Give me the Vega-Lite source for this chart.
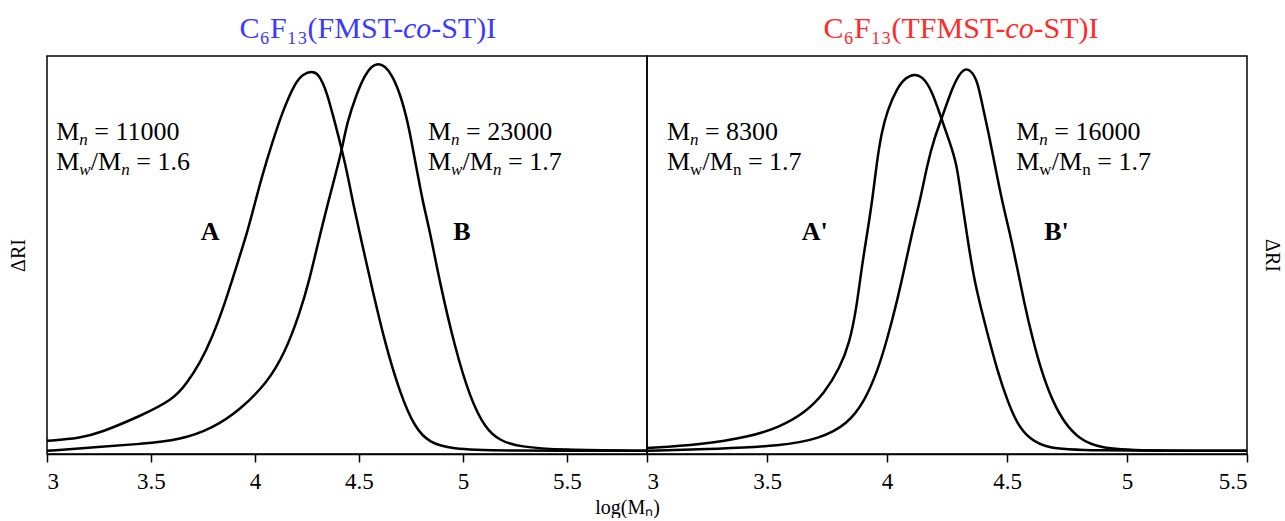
{
  "$schema": "https://vega.github.io/schema/vega-lite/v6.json",
  "background": "white",
  "padding": {"left": 7, "top": 13, "right": 0, "bottom": 0},
  "config": {
    "view": {"stroke": "black", "strokeWidth": 1.5},
    "font": "Liberation Serif"
  },
  "datasets": {
    "left": [
      {"s": "A", "x": 3.000, "v": 0.033}, {"s": "A", "x": 3.159, "v": 0.040}, {"s": "A", "x": 3.255, "v": 0.053},
      {"s": "A", "x": 3.447, "v": 0.095}, {"s": "A", "x": 3.606, "v": 0.136}, {"s": "A", "x": 3.673, "v": 0.178},
      {"s": "A", "x": 3.736, "v": 0.229}, {"s": "A", "x": 3.793, "v": 0.291}, {"s": "A", "x": 3.856, "v": 0.379},
      {"s": "A", "x": 3.913, "v": 0.475}, {"s": "A", "x": 3.962, "v": 0.555}, {"s": "A", "x": 4.000, "v": 0.631},
      {"s": "A", "x": 4.034, "v": 0.698}, {"s": "A", "x": 4.082, "v": 0.781}, {"s": "A", "x": 4.135, "v": 0.864},
      {"s": "A", "x": 4.192, "v": 0.932}, {"s": "A", "x": 4.231, "v": 0.955}, {"s": "A", "x": 4.274, "v": 0.962},
      {"s": "A", "x": 4.303, "v": 0.955}, {"s": "A", "x": 4.327, "v": 0.932}, {"s": "A", "x": 4.346, "v": 0.907},
      {"s": "A", "x": 4.385, "v": 0.832}, {"s": "A", "x": 4.418, "v": 0.764}, {"s": "A", "x": 4.447, "v": 0.698},
      {"s": "A", "x": 4.471, "v": 0.631}, {"s": "A", "x": 4.514, "v": 0.530}, {"s": "A", "x": 4.563, "v": 0.417},
      {"s": "A", "x": 4.625, "v": 0.279}, {"s": "A", "x": 4.697, "v": 0.153}, {"s": "A", "x": 4.769, "v": 0.065},
      {"s": "A", "x": 4.841, "v": 0.028}, {"s": "A", "x": 4.938, "v": 0.013}, {"s": "A", "x": 5.178, "v": 0.008},
      {"s": "A", "x": 5.885, "v": 0.008},
      {"s": "B", "x": 3.000, "v": 0.008}, {"s": "B", "x": 3.255, "v": 0.018}, {"s": "B", "x": 3.447, "v": 0.025},
      {"s": "B", "x": 3.639, "v": 0.035}, {"s": "B", "x": 3.798, "v": 0.065}, {"s": "B", "x": 3.928, "v": 0.111},
      {"s": "B", "x": 4.058, "v": 0.178}, {"s": "B", "x": 4.144, "v": 0.254}, {"s": "B", "x": 4.216, "v": 0.354},
      {"s": "B", "x": 4.264, "v": 0.442}, {"s": "B", "x": 4.303, "v": 0.530}, {"s": "B", "x": 4.351, "v": 0.631},
      {"s": "B", "x": 4.385, "v": 0.698}, {"s": "B", "x": 4.418, "v": 0.764}, {"s": "B", "x": 4.442, "v": 0.832},
      {"s": "B", "x": 4.490, "v": 0.907}, {"s": "B", "x": 4.529, "v": 0.952}, {"s": "B", "x": 4.558, "v": 0.973},
      {"s": "B", "x": 4.591, "v": 0.982}, {"s": "B", "x": 4.625, "v": 0.975}, {"s": "B", "x": 4.659, "v": 0.952},
      {"s": "B", "x": 4.697, "v": 0.907}, {"s": "B", "x": 4.736, "v": 0.832}, {"s": "B", "x": 4.760, "v": 0.764},
      {"s": "B", "x": 4.784, "v": 0.698}, {"s": "B", "x": 4.808, "v": 0.631}, {"s": "B", "x": 4.841, "v": 0.560},
      {"s": "B", "x": 4.889, "v": 0.430}, {"s": "B", "x": 4.962, "v": 0.266}, {"s": "B", "x": 5.034, "v": 0.141},
      {"s": "B", "x": 5.106, "v": 0.065}, {"s": "B", "x": 5.178, "v": 0.033}, {"s": "B", "x": 5.274, "v": 0.018},
      {"s": "B", "x": 5.466, "v": 0.010}, {"s": "B", "x": 5.885, "v": 0.008}
    ],
    "right": [
      {"s": "A'", "x": 3.000, "v": 0.015}, {"s": "A'", "x": 3.220, "v": 0.023}, {"s": "A'", "x": 3.428, "v": 0.043},
      {"s": "A'", "x": 3.553, "v": 0.068}, {"s": "A'", "x": 3.657, "v": 0.103}, {"s": "A'", "x": 3.740, "v": 0.153},
      {"s": "A'", "x": 3.803, "v": 0.216}, {"s": "A'", "x": 3.844, "v": 0.279}, {"s": "A'", "x": 3.873, "v": 0.367},
      {"s": "A'", "x": 3.894, "v": 0.467}, {"s": "A'", "x": 3.919, "v": 0.560}, {"s": "A'", "x": 3.940, "v": 0.643},
      {"s": "A'", "x": 3.957, "v": 0.731}, {"s": "A'", "x": 3.977, "v": 0.807}, {"s": "A'", "x": 4.002, "v": 0.864},
      {"s": "A'", "x": 4.040, "v": 0.917}, {"s": "A'", "x": 4.077, "v": 0.946}, {"s": "A'", "x": 4.115, "v": 0.955},
      {"s": "A'", "x": 4.148, "v": 0.948}, {"s": "A'", "x": 4.186, "v": 0.915}, {"s": "A'", "x": 4.227, "v": 0.842},
      {"s": "A'", "x": 4.260, "v": 0.786}, {"s": "A'", "x": 4.290, "v": 0.731}, {"s": "A'", "x": 4.310, "v": 0.643},
      {"s": "A'", "x": 4.331, "v": 0.560}, {"s": "A'", "x": 4.364, "v": 0.430}, {"s": "A'", "x": 4.418, "v": 0.304},
      {"s": "A'", "x": 4.460, "v": 0.209}, {"s": "A'", "x": 4.502, "v": 0.133}, {"s": "A'", "x": 4.543, "v": 0.075},
      {"s": "A'", "x": 4.593, "v": 0.038}, {"s": "A'", "x": 4.668, "v": 0.015}, {"s": "A'", "x": 4.801, "v": 0.008},
      {"s": "A'", "x": 5.500, "v": 0.008},
      {"s": "B'", "x": 3.000, "v": 0.008}, {"s": "B'", "x": 3.304, "v": 0.013}, {"s": "B'", "x": 3.553, "v": 0.020},
      {"s": "B'", "x": 3.720, "v": 0.038}, {"s": "B'", "x": 3.836, "v": 0.075}, {"s": "B'", "x": 3.907, "v": 0.133},
      {"s": "B'", "x": 3.961, "v": 0.209}, {"s": "B'", "x": 4.002, "v": 0.291}, {"s": "B'", "x": 4.040, "v": 0.379},
      {"s": "B'", "x": 4.073, "v": 0.467}, {"s": "B'", "x": 4.106, "v": 0.560}, {"s": "B'", "x": 4.140, "v": 0.643},
      {"s": "B'", "x": 4.169, "v": 0.731}, {"s": "B'", "x": 4.198, "v": 0.794}, {"s": "B'", "x": 4.227, "v": 0.842},
      {"s": "B'", "x": 4.269, "v": 0.915}, {"s": "B'", "x": 4.298, "v": 0.952}, {"s": "B'", "x": 4.327, "v": 0.970},
      {"s": "B'", "x": 4.352, "v": 0.962}, {"s": "B'", "x": 4.377, "v": 0.937}, {"s": "B'", "x": 4.398, "v": 0.875},
      {"s": "B'", "x": 4.423, "v": 0.807}, {"s": "B'", "x": 4.448, "v": 0.731}, {"s": "B'", "x": 4.481, "v": 0.631},
      {"s": "B'", "x": 4.510, "v": 0.560}, {"s": "B'", "x": 4.543, "v": 0.467}, {"s": "B'", "x": 4.572, "v": 0.379},
      {"s": "B'", "x": 4.606, "v": 0.291}, {"s": "B'", "x": 4.643, "v": 0.209}, {"s": "B'", "x": 4.689, "v": 0.133},
      {"s": "B'", "x": 4.743, "v": 0.075}, {"s": "B'", "x": 4.801, "v": 0.038}, {"s": "B'", "x": 4.884, "v": 0.015},
      {"s": "B'", "x": 5.051, "v": 0.008}, {"s": "B'", "x": 5.500, "v": 0.008}
    ],
    "labL": [
      {"x": 3.045, "y1": 0.789, "y2": 0.714, "mn": "= 11000", "pd": "= 1.6"},
      {"x": 4.832, "y1": 0.789, "y2": 0.714, "mn": "= 23000", "pd": "= 1.7"}
    ],
    "labR": [
      {"x": 3.083, "y1": 0.789, "y2": 0.714, "mn": "= 8300", "pd": "= 1.7"},
      {"x": 4.539, "y1": 0.789, "y2": 0.714, "mn": "= 16000", "pd": "= 1.7"}
    ],
    "letL": [
      {"x": 3.784, "y": 0.538, "t": "A"},
      {"x": 4.995, "y": 0.538, "t": "B"}
    ],
    "letR": [
      {"x": 3.699, "y": 0.538, "t": "A'"},
      {"x": 4.706, "y": 0.538, "t": "B'"}
    ],
    "ttlL": [
      {"x": 4.78, "y": 1.0455, "a": "C₆F₁₃(FMST-", "b": "co", "c": "-ST)I"}
    ],
    "ttlR": [
      {"x": 4.552, "y": 1.0455, "a": "C₆F₁₃(TFMST-", "b": "co", "c": "-ST)I"}
    ]
  },
  "hconcat": [
    {
      "width": 600,
      "height": 398,
      "resolve": {"axis": {"x": "independent", "y": "independent"}},
      "layer": [
        {
          "data": {"name": "left"},
          "mark": {"type": "line", "interpolate": "basis", "color": "black", "strokeWidth": 2.5, "clip": true},
          "encoding": {
            "x": {"field": "x", "type": "quantitative",
                  "scale": {"domain": [3, 5.885], "nice": false, "zero": false},
                  "axis": {"values": [3, 3.5, 4, 4.5, 5, 5.5], "format": "~g", "grid": false, "tickColor": "black", "tickSize": 8, "tickWidth": 1.5,
                           "domainColor": "black", "domainWidth": 1.5, "labelFont": "Liberation Serif", "labelFontSize": 23, "labelColor": "black",
                           "labelPadding": 8, "title": "log(Mₙ)", "titleFont": "Liberation Serif", "titleFontSize": 20, "titleFontWeight": "normal",
                           "titleColor": "black", "titleX": 580, "titleY": 59, "titleAlign": "center", "titleBaseline": "alphabetic"}},
            "y": {"field": "v", "type": "quantitative",
                  "scale": {"domain": [0, 1], "nice": false},
                  "axis": {"title": "ΔRI", "labels": false, "ticks": false, "domain": false, "grid": false,
                           "titleFont": "Liberation Serif", "titleFontSize": 20, "titleFontWeight": "normal", "titleColor": "black", "titlePadding": 19}},
            "detail": {"field": "s"}
          }
        },
        {
          "data": {"name": "ttlL"},
          "mark": {"type": "text", "align": "right", "baseline": "alphabetic", "fontSize": 30, "dx": -14, "font": "Liberation Serif", "color": "#3a3aff"},
          "encoding": {"x": {"field": "x", "type": "quantitative", "axis": null}, "y": {"field": "y", "type": "quantitative", "axis": null}, "text": {"field": "a"}}
        },
        {
          "data": {"name": "ttlL"},
          "mark": {"type": "text", "align": "center", "baseline": "alphabetic", "fontSize": 30, "fontStyle": "italic", "font": "Liberation Serif", "color": "#3a3aff"},
          "encoding": {"x": {"field": "x", "type": "quantitative", "axis": null}, "y": {"field": "y", "type": "quantitative", "axis": null}, "text": {"field": "b"}}
        },
        {
          "data": {"name": "ttlL"},
          "mark": {"type": "text", "align": "left", "baseline": "alphabetic", "fontSize": 30, "dx": 14, "font": "Liberation Serif", "color": "#3a3aff"},
          "encoding": {"x": {"field": "x", "type": "quantitative", "axis": null}, "y": {"field": "y", "type": "quantitative", "axis": null}, "text": {"field": "c"}}
        },
        {
          "data": {"name": "labL"},
          "mark": {"type": "text", "text": "M", "align": "left", "baseline": "alphabetic", "fontSize": 26, "font": "Liberation Serif", "color": "black"},
          "encoding": {"x": {"field": "x", "type": "quantitative", "axis": null}, "y": {"field": "y1", "type": "quantitative", "axis": null}}
        },
        {
          "data": {"name": "labL"},
          "mark": {"type": "text", "text": "n", "align": "left", "baseline": "alphabetic", "fontSize": 17, "fontStyle": "italic", "dx": 23, "dy": 5, "font": "Liberation Serif", "color": "black"},
          "encoding": {"x": {"field": "x", "type": "quantitative", "axis": null}, "y": {"field": "y1", "type": "quantitative", "axis": null}}
        },
        {
          "data": {"name": "labL"},
          "mark": {"type": "text", "align": "left", "baseline": "alphabetic", "fontSize": 26, "dx": 38, "font": "Liberation Serif", "color": "black"},
          "encoding": {"x": {"field": "x", "type": "quantitative", "axis": null}, "y": {"field": "y1", "type": "quantitative", "axis": null}, "text": {"field": "mn"}}
        },
        {
          "data": {"name": "labL"},
          "mark": {"type": "text", "text": "M", "align": "left", "baseline": "alphabetic", "fontSize": 26, "font": "Liberation Serif", "color": "black"},
          "encoding": {"x": {"field": "x", "type": "quantitative", "axis": null}, "y": {"field": "y2", "type": "quantitative", "axis": null}}
        },
        {
          "data": {"name": "labL"},
          "mark": {"type": "text", "text": "w", "align": "left", "baseline": "alphabetic", "fontSize": 17, "fontStyle": "italic", "dx": 23, "dy": 5, "font": "Liberation Serif", "color": "black"},
          "encoding": {"x": {"field": "x", "type": "quantitative", "axis": null}, "y": {"field": "y2", "type": "quantitative", "axis": null}}
        },
        {
          "data": {"name": "labL"},
          "mark": {"type": "text", "text": "/M", "align": "left", "baseline": "alphabetic", "fontSize": 26, "dx": 34.5, "font": "Liberation Serif", "color": "black"},
          "encoding": {"x": {"field": "x", "type": "quantitative", "axis": null}, "y": {"field": "y2", "type": "quantitative", "axis": null}}
        },
        {
          "data": {"name": "labL"},
          "mark": {"type": "text", "text": "n", "align": "left", "baseline": "alphabetic", "fontSize": 17, "fontStyle": "italic", "dx": 65, "dy": 5, "font": "Liberation Serif", "color": "black"},
          "encoding": {"x": {"field": "x", "type": "quantitative", "axis": null}, "y": {"field": "y2", "type": "quantitative", "axis": null}}
        },
        {
          "data": {"name": "labL"},
          "mark": {"type": "text", "align": "left", "baseline": "alphabetic", "fontSize": 26, "dx": 80, "font": "Liberation Serif", "color": "black"},
          "encoding": {"x": {"field": "x", "type": "quantitative", "axis": null}, "y": {"field": "y2", "type": "quantitative", "axis": null}, "text": {"field": "pd"}}
        },
        {
          "data": {"name": "letL"},
          "mark": {"type": "text", "align": "center", "baseline": "alphabetic", "fontSize": 26, "fontWeight": "bold", "font": "Liberation Serif", "color": "black"},
          "encoding": {"x": {"field": "x", "type": "quantitative", "axis": null}, "y": {"field": "y", "type": "quantitative", "axis": null}, "text": {"field": "t"}}
        }
      ]
    },
    {
      "width": 600,
      "height": 398,
      "resolve": {"axis": {"x": "independent", "y": "independent"}},
      "layer": [
        {
          "data": {"name": "right"},
          "mark": {"type": "line", "interpolate": "basis", "color": "black", "strokeWidth": 2.5, "clip": true},
          "encoding": {
            "x": {"field": "x", "type": "quantitative",
                  "scale": {"domain": [3, 5.5], "nice": false, "zero": false},
                  "axis": {"values": [3, 3.5, 4, 4.5, 5, 5.5], "format": "~g", "grid": false, "tickColor": "black", "tickSize": 8, "tickWidth": 1.5,
                           "domainColor": "black", "domainWidth": 1.5, "labelFont": "Liberation Serif", "labelFontSize": 23, "labelColor": "black",
                           "labelPadding": 8, "title": null}},
            "y": {"field": "v", "type": "quantitative",
                  "scale": {"domain": [0, 1], "nice": false},
                  "axis": {"orient": "right", "title": "ΔRI", "labels": false, "ticks": false, "domain": false, "grid": false,
                           "titleFont": "Liberation Serif", "titleFontSize": 20, "titleFontWeight": "normal", "titleColor": "black", "titlePadding": 14}},
            "detail": {"field": "s"}
          }
        },
        {
          "data": {"name": "ttlR"},
          "mark": {"type": "text", "align": "right", "baseline": "alphabetic", "fontSize": 30, "dx": -14, "font": "Liberation Serif", "color": "#ff2a2a"},
          "encoding": {"x": {"field": "x", "type": "quantitative", "axis": null}, "y": {"field": "y", "type": "quantitative", "axis": null}, "text": {"field": "a"}}
        },
        {
          "data": {"name": "ttlR"},
          "mark": {"type": "text", "align": "center", "baseline": "alphabetic", "fontSize": 30, "fontStyle": "italic", "font": "Liberation Serif", "color": "#ff2a2a"},
          "encoding": {"x": {"field": "x", "type": "quantitative", "axis": null}, "y": {"field": "y", "type": "quantitative", "axis": null}, "text": {"field": "b"}}
        },
        {
          "data": {"name": "ttlR"},
          "mark": {"type": "text", "align": "left", "baseline": "alphabetic", "fontSize": 30, "dx": 14, "font": "Liberation Serif", "color": "#ff2a2a"},
          "encoding": {"x": {"field": "x", "type": "quantitative", "axis": null}, "y": {"field": "y", "type": "quantitative", "axis": null}, "text": {"field": "c"}}
        },
        {
          "data": {"name": "labR"},
          "mark": {"type": "text", "text": "M", "align": "left", "baseline": "alphabetic", "fontSize": 26, "font": "Liberation Serif", "color": "black"},
          "encoding": {"x": {"field": "x", "type": "quantitative", "axis": null}, "y": {"field": "y1", "type": "quantitative", "axis": null}}
        },
        {
          "data": {"name": "labR"},
          "mark": {"type": "text", "text": "n", "align": "left", "baseline": "alphabetic", "fontSize": 17, "fontStyle": "italic", "dx": 23, "dy": 5, "font": "Liberation Serif", "color": "black"},
          "encoding": {"x": {"field": "x", "type": "quantitative", "axis": null}, "y": {"field": "y1", "type": "quantitative", "axis": null}}
        },
        {
          "data": {"name": "labR"},
          "mark": {"type": "text", "align": "left", "baseline": "alphabetic", "fontSize": 26, "dx": 38, "font": "Liberation Serif", "color": "black"},
          "encoding": {"x": {"field": "x", "type": "quantitative", "axis": null}, "y": {"field": "y1", "type": "quantitative", "axis": null}, "text": {"field": "mn"}}
        },
        {
          "data": {"name": "labR"},
          "mark": {"type": "text", "text": "M", "align": "left", "baseline": "alphabetic", "fontSize": 26, "font": "Liberation Serif", "color": "black"},
          "encoding": {"x": {"field": "x", "type": "quantitative", "axis": null}, "y": {"field": "y2", "type": "quantitative", "axis": null}}
        },
        {
          "data": {"name": "labR"},
          "mark": {"type": "text", "text": "w", "align": "left", "baseline": "alphabetic", "fontSize": 17, "dx": 23, "dy": 5, "font": "Liberation Serif", "color": "black"},
          "encoding": {"x": {"field": "x", "type": "quantitative", "axis": null}, "y": {"field": "y2", "type": "quantitative", "axis": null}}
        },
        {
          "data": {"name": "labR"},
          "mark": {"type": "text", "text": "/M", "align": "left", "baseline": "alphabetic", "fontSize": 26, "dx": 35.5, "font": "Liberation Serif", "color": "black"},
          "encoding": {"x": {"field": "x", "type": "quantitative", "axis": null}, "y": {"field": "y2", "type": "quantitative", "axis": null}}
        },
        {
          "data": {"name": "labR"},
          "mark": {"type": "text", "text": "n", "align": "left", "baseline": "alphabetic", "fontSize": 17, "dx": 66, "dy": 5, "font": "Liberation Serif", "color": "black"},
          "encoding": {"x": {"field": "x", "type": "quantitative", "axis": null}, "y": {"field": "y2", "type": "quantitative", "axis": null}}
        },
        {
          "data": {"name": "labR"},
          "mark": {"type": "text", "align": "left", "baseline": "alphabetic", "fontSize": 26, "dx": 81, "font": "Liberation Serif", "color": "black"},
          "encoding": {"x": {"field": "x", "type": "quantitative", "axis": null}, "y": {"field": "y2", "type": "quantitative", "axis": null}, "text": {"field": "pd"}}
        },
        {
          "data": {"name": "letR"},
          "mark": {"type": "text", "align": "center", "baseline": "alphabetic", "fontSize": 26, "fontWeight": "bold", "font": "Liberation Serif", "color": "black"},
          "encoding": {"x": {"field": "x", "type": "quantitative", "axis": null}, "y": {"field": "y", "type": "quantitative", "axis": null}, "text": {"field": "t"}}
        }
      ]
    }
  ],
  "spacing": 0,
  "bounds": "flush"
}
